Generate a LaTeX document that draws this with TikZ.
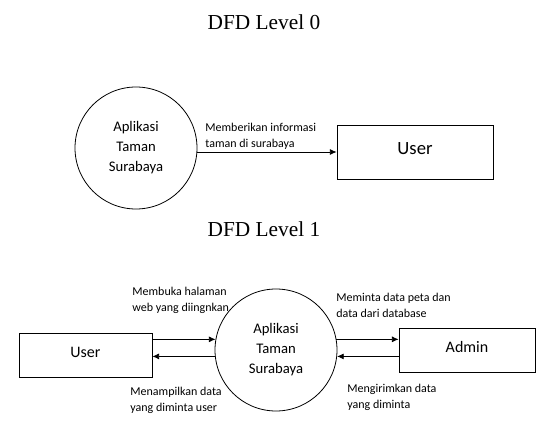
\documentclass[tikz,border=0pt]{standalone}
\usepackage{fontspec}
\setmainfont{Carlito}
\newfontfamily\titlefont{Liberation Serif}
\usepackage{xcolor}
\usetikzlibrary{arrows.meta}

\begin{document}
\begin{tikzpicture}[x=0.75pt,y=-0.75pt,line width=0.6pt,
    process/.style={circle, draw, inner sep=0pt, minimum size=91.5pt, align=center, font=\fontsize{11}{15}\selectfont},
    entity/.style={rectangle, draw, inner sep=0pt, text depth=4.5pt},
    flowlabel/.style={anchor=west, inner sep=0pt, align=left, font=\fontsize{9}{12}\selectfont},
    flow/.style={-{Latex[length=5pt,width=4.5pt]}}]
    \useasboundingbox (0,0) rectangle (550,442);

    % Titles
    \node (title0) at (264,22) {\titlefont\fontsize{16}{19}\selectfont DFD Level 0};
    \node (title1) at (264,229) {\titlefont\fontsize{16}{19}\selectfont DFD Level 1};

    % Nodes level 0
    \node[process] (proc0) at (136,148) {Aplikasi\\Taman\\Surabaya};
    \node[entity, minimum width=117pt, minimum height=40.5pt, font=\fontsize{14}{17}\selectfont] (user0) at (415,152) {User};

    % Nodes level 1
    \node[process] (proc1) at (276,350) {Aplikasi\\Taman\\Surabaya};
    \node[entity, minimum width=99.75pt, minimum height=33pt, font=\fontsize{12}{14}\selectfont] (user1) at (85.5,355) {User};
    \node[entity, minimum width=102pt, minimum height=33pt, font=\fontsize{12}{14}\selectfont] (admin) at (467,350) {Admin};

    % Labels
    \node[flowlabel] (lbl0) at (205,136) {Memberikan informasi\\taman di surabaya};
    \node[flowlabel] (lbl1) at (132,300) {Membuka halaman\\web yang diingnkan};
    \node[flowlabel] (lbl2) at (130,400) {Menampilkan data\\yang diminta user};
    \node[flowlabel] (lbl3) at (336,305.5) {Meminta data peta dan\\data dari database};
    \node[flowlabel] (lbl4) at (347,397) {Mengirimkan data\\yang diminta};

    % Edges
    \draw[flow] (proc0.east |- user0.west) -- (user0.west);
    \draw[flow] (user1.east |- proc1.170) -- (proc1.170);
    \draw[flow] (proc1.186) -- (user1.east |- proc1.186);
    \draw[flow] (proc1.10) -- (admin.west |- proc1.10);
    \draw[flow] (admin.west |- proc1.-6) -- (proc1.-6);
\end{tikzpicture}
\end{document}
